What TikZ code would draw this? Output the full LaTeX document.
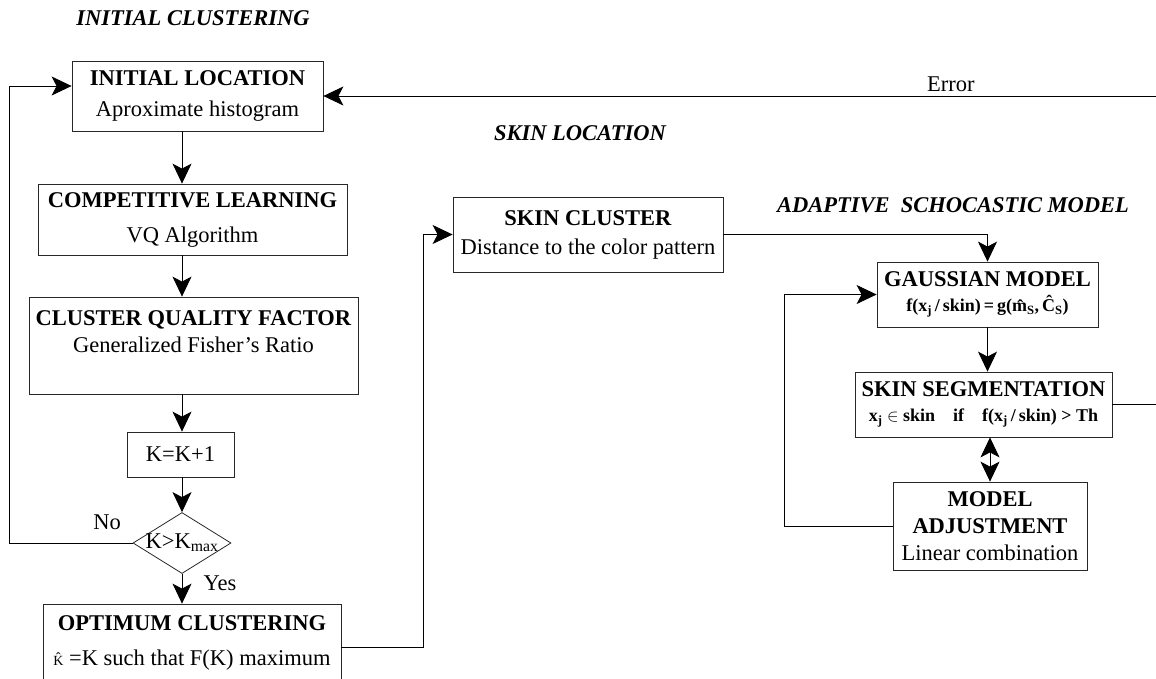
\documentclass[tikz,border=0pt]{standalone}
\usepackage{fontspec}
\setmainfont{Liberation Serif}
\usepackage{tikz}
\usetikzlibrary{shapes.geometric, arrows.meta, positioning, calc}
\definecolor{edge}{RGB}{40, 40, 40}
\tikzset{
  x=1pt, y=-1pt,
  font=\fontsize{22.5}{27}\selectfont,
  baseblock/.style={
    rectangle, draw=edge, line width=0.8pt, inner sep=2pt,
    align=center
  },
  decisionblock/.style={
    diamond, draw=edge, line width=0.8pt, inner sep=0pt,
    minimum width=98pt, minimum height=61pt
  },
  titletext/.style={font=\fontsize{22.5}{27}\selectfont\bfseries\itshape},
  flowline/.style={
    draw=black, -{Stealth[length=20pt, width=19pt, inset=5pt]}, line width=0.8pt
  },
  bidirline/.style={
    draw=black, {Stealth[length=20pt, width=19pt, inset=5pt]}-{Stealth[length=20pt, width=19pt, inset=5pt]}, line width=0.8pt
  },
  plainline/.style={draw=black, line width=0.8pt}
}
\newcommand{\formfont}{\fontsize{18}{21}\selectfont\bfseries}
\begin{document}
\begin{tikzpicture}

  \useasboundingbox (0,0) rectangle (1156,678);
  \clip (0,0) rectangle (1156,678);

  % Titles
  \node[titletext] (t_init) at (193,18) {INITIAL CLUSTERING};
  \node[titletext] (t_loc) at (580,133) {SKIN LOCATION};
  \node[titletext] (t_model) at (953,205) {ADAPTIVE\ \ SCHOCASTIC MODEL};

  % Initial clustering column
  \node[baseblock, minimum width=251pt, minimum height=70pt] (initloc) at (197.5,96) {
    \textbf{INITIAL LOCATION}\\[4pt] Aproximate histogram
  };
  \node[baseblock, minimum width=309pt, minimum height=71pt] (complearn) at (192.5,219.5) {
    \textbf{COMPETITIVE LEARNING}\\[8pt] VQ Algorithm
  };
  \node[baseblock, minimum width=329pt, minimum height=97pt] (quality) at (193.5,345.5) {
    \textbf{CLUSTER QUALITY FACTOR}\\ Generalized Fisher's Ratio\\ \mbox{}
  };
  \node[baseblock, minimum width=107pt, minimum height=45pt] (kinc) at (180.5,454.5) {K=K+1};
  \node[decisionblock] (test) at (182,543) {\makebox[0pt]{K>K\textsubscript{max}}};
  \node[baseblock, minimum width=298pt, minimum height=86pt] (optimum) at (192,647) {
    \textbf{OPTIMUM CLUSTERING}\\[8pt] {\fontsize{14}{16}\selectfont\^{K}} =K such that F(K) maximum\\[-14pt] \mbox{}
  };

  % Skin location
  \node[baseblock, minimum width=270pt, minimum height=75pt] (skincl) at (588,234.5) {
    \textbf{SKIN CLUSTER}\\[2pt] Distance to the color pattern
  };

  % Adaptive model
  \node[baseblock, minimum width=221pt, minimum height=65pt] (gauss) at (987.5,294.5) {
    \textbf{GAUSSIAN MODEL}\\[-2pt] {\formfont f(x\textsubscript{j}\,/\,skin)\,=\,g(\^{m}\textsubscript{S},\,\^{C}\textsubscript{S})}
  };
  \node[baseblock, minimum width=257pt, minimum height=65pt] (skinseg) at (983.5,404.5) {
    \textbf{SKIN SEGMENTATION}\\[-2pt] {\formfont x\textsubscript{j} $\in$ skin\quad if\quad f(x\textsubscript{j}\,/\,skin) > Th}
  };
  \node[baseblock, minimum width=194pt, minimum height=88pt] (adjust) at (990,526) {
    \textbf{MODEL}\\ \textbf{ADJUSTMENT}\\ Linear combination
  };

  % Open ends at the right border
  \coordinate (errin) at (1160,96);
  \coordinate (segout) at (1160,402);

  % Connectors
  \draw[flowline] (initloc.south -| test) -- (complearn.north -| test);
  \draw[flowline] (complearn.south -| test) -- (quality.north -| test);
  \draw[flowline] (quality.south -| test) -- (kinc.north -| test);
  \draw[flowline] (kinc.south -| test) -- (test.north);
  \draw[flowline] (test.south) -- (optimum.north -| test) node[pos=0.3, right=18pt] {Yes};
  \draw[flowline] (test.west) node[above left=10pt and 8pt] {No} -- ++(-123,0) |- ([yshift=10pt]initloc.west);
  \draw[flowline] (optimum.east) -- ++(82,0) |- (skincl.west);
  \draw[flowline] (skincl.east) -| (gauss.north);
  \draw[flowline] (gauss.south) -- (skinseg.north -| gauss.south);
  \draw[bidirline] (skinseg.south -| adjust.north) -- (adjust.north);
  \draw[flowline] (adjust.west) -- ++(-108,0) |- (gauss.west);
  \draw[plainline] (skinseg.east) -- (skinseg.east -| segout);
  \draw[flowline] (errin) -- (initloc.east) node[pos=0.25, above=1pt] {Error};

\end{tikzpicture}
\end{document}
